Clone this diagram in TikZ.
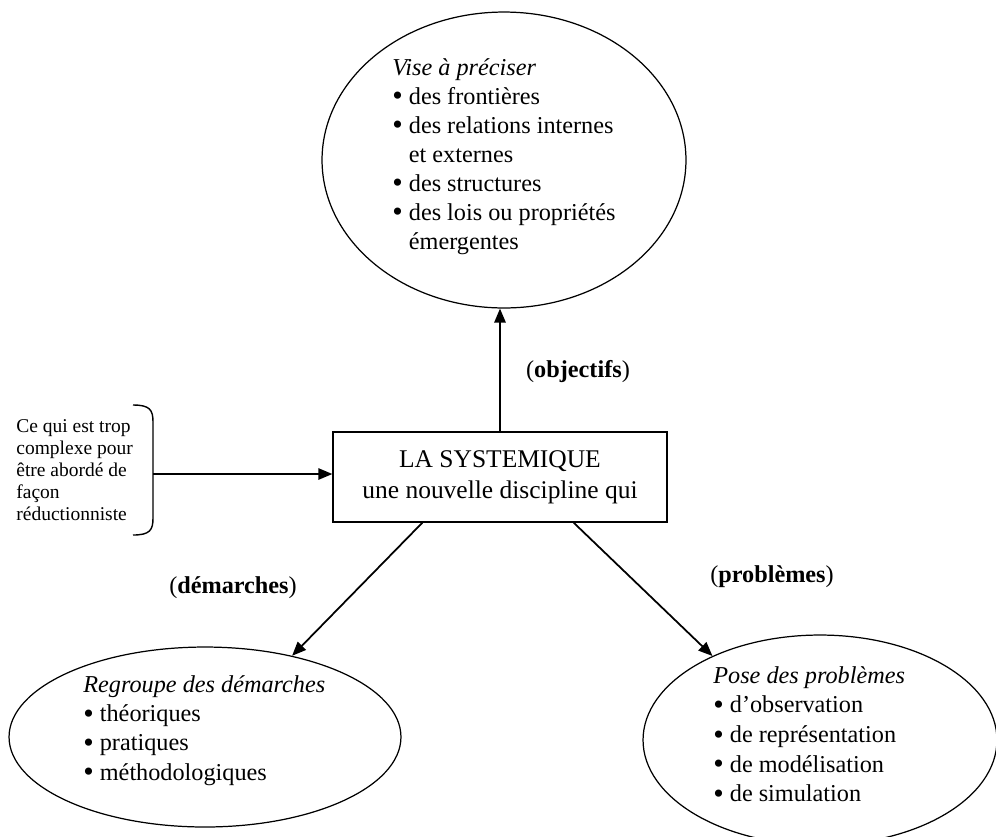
\documentclass[tikz,border=0pt]{standalone}
\usepackage{fontspec}
\setmainfont{Liberation Serif}
\usetikzlibrary{shapes.geometric,arrows.meta}
\newcommand{\puce}{\raisebox{-0.15ex}{\fontsize{17}{17}\selectfont\textbullet}}

\begin{document}
\begin{tikzpicture}[x=0.02cm,y=-0.02cm,
  bulle/.style={draw, ellipse, inner sep=0pt, line width=0.7pt},
  texte/.style={anchor=north west, inner sep=0pt, align=left, font=\fontsize{13.8}{16.5}\selectfont},
  etiq/.style={inner sep=0pt, font=\fontsize{13.8}{16.5}\selectfont},
  fleche/.style={-{Triangle[length=8pt,width=6.5pt]}, line width=1pt}]
\useasboundingbox (0,0) rectangle (996,836);
%% ellipses
\node[bulle, minimum width=7.28cm, minimum height=5.92cm] (vise) at (504,160) {};
\node[bulle, minimum width=7.84cm, minimum height=3.6cm] (regroupe) at (205,737) {};
\node[bulle, minimum width=7.08cm, minimum height=4.2cm] (pose) at (820,740) {};
%% centre
\node[draw, line width=0.8pt, minimum width=6.68cm, minimum height=1.8cm, inner sep=0pt, align=center, font=\fontsize{14.5}{17.6}\selectfont] (systemique) at (500,477) {LA SYSTEMIQUE\\une nouvelle discipline qui};
%% textes
\node[texte] (tvise) at (392,58) {\textit{Vise à préciser}\\\puce{} des frontières\\\puce{} des relations internes\\\phantom{\puce\ }et externes\\\puce{} des structures\\\puce{} des lois ou propriétés\\\phantom{\puce\ }émergentes};
\node[texte, font=\fontsize{13.8}{16.7}\selectfont] (tregroupe) at (83,675) {\textit{Regroupe des démarches}\\\puce{} théoriques\\\puce{} pratiques\\\puce{} méthodologiques};
\node[texte, font=\fontsize{13.8}{16.9}\selectfont] (tpose) at (713,666) {\textit{Pose des problèmes}\\\puce{} d’observation\\\puce{} de représentation\\\puce{} de modélisation\\\puce{} de simulation};
\node[anchor=north west, inner sep=0pt, align=left, font=\fontsize{11.1}{12.5}\selectfont] (complexe) at (16,419) {Ce qui est trop\\complexe pour\\être abordé de\\façon\\réductionniste};
%% accolade
\draw[line width=0.8pt] (133,405) .. controls (150,405) and (153,410) .. (153,422) -- (153,518) .. controls (153,530) and (150,535) .. (133,535);
\coordinate (accolade) at (153,474);
%% fleches
\draw[fleche] (accolade) -- (systemique.west |- accolade);
\draw[fleche] (systemique.north) -- (systemique.north |- vise.south);
\draw[fleche] ([xshift=1.8cm]systemique.south west) -- (regroupe.43);
\draw[fleche] ([xshift=-1.88cm]systemique.south east) -- (pose.142);
%% etiquettes
\node[etiq] (objectifs) at (578,372) {(\textbf{objectifs})};
\node[etiq] (demarches) at (233,588) {(\textbf{démarches})};
\node[etiq] (problemes) at (772,577) {(\textbf{problèmes})};
\end{tikzpicture}
\end{document}
